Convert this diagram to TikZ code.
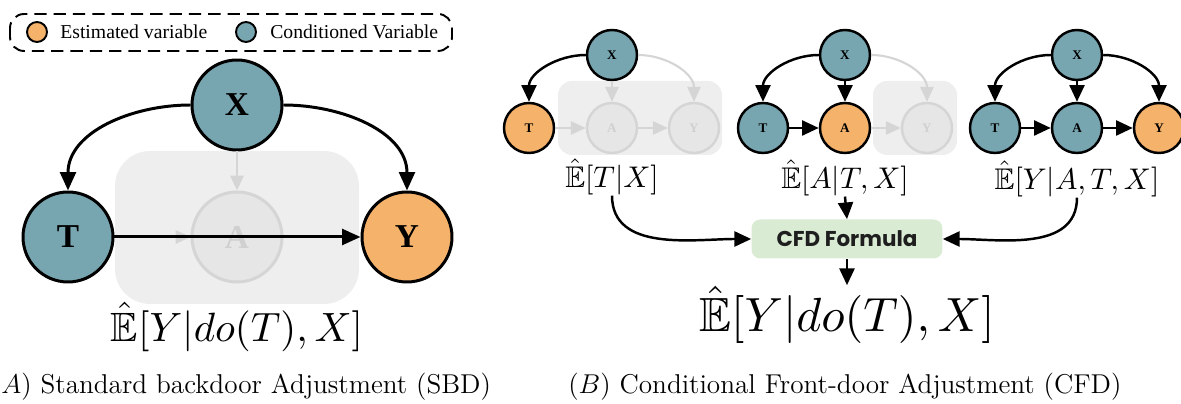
\documentclass[tikz,border=0pt]{standalone}
\usepackage{amsmath,amssymb}
\usepackage{fontspec}
\usetikzlibrary{arrows.meta}
\newfontfamily\tnr{Liberation Serif}
\newfontfamily\popfont{Poppins}
\definecolor{condcol}{HTML}{77A6B1}
\definecolor{estcol}{HTML}{F5B26B}
\definecolor{boxgray}{HTML}{EEEEEE}
\definecolor{ghostfill}{HTML}{E6E6E6}
\definecolor{ghostline}{HTML}{D5D5D5}
\definecolor{ghosttext}{HTML}{D0D0D0}
\definecolor{formulagreen}{HTML}{D9EBD3}
\definecolor{formulatext}{HTML}{1E1E1E}
\tikzset{
  bignode/.style={circle, draw=black, line width=1.7pt, minimum size=1.8cm, inner sep=0pt,
    font=\tnr\bfseries\fontsize{19}{19}\selectfont},
  smallnode/.style={circle, draw=black, line width=1.4pt, minimum size=1.0cm, inner sep=0pt,
    font=\tnr\bfseries\fontsize{7.5}{7.5}\selectfont},
  cond/.style={fill=condcol},
  est/.style={fill=estcol},
  ghost/.style={fill=ghostfill, draw=ghostline, text=ghosttext},
  shade box/.style={fill=boxgray, draw=none, rounded corners=#1},
  bigedge/.style={line width=1.7pt, -{Triangle[length=10.5pt,width=9pt]}},
  smalledge/.style={line width=1.4pt, -{Triangle[length=9.5pt,width=8.5pt]}},
  ghostedge/.style={draw=ghostline, line width=1.2pt, -{Triangle[length=8.5pt,width=7.5pt]}},
  estlabel/.style={inner sep=0pt, scale=#1},
  legendtext/.style={anchor=west, inner sep=0pt, font=\tnr\fontsize{11.2}{12}\selectfont},
  captiontext/.style={inner sep=0pt, scale=1.076, font=\fontsize{14.4}{16}\selectfont},
}
\begin{document}
\begin{tikzpicture}[x=0.02cm, y=-0.02cm]
\useasboundingbox (0,0) rectangle (1181,404);

% ---------- legend ----------
\draw[line width=1.1pt, dash pattern=on 7pt off 4pt, rounded corners=8pt] (10,14) rectangle (452,51);
\node[circle, draw=black, line width=1.1pt, est, minimum size=0.4cm, inner sep=0pt] (legE) at (37,32) {};
\node[legendtext] (legEt) at (60,32) {Estimated variable};
\node[circle, draw=black, line width=1.1pt, cond, minimum size=0.4cm, inner sep=0pt] (legC) at (246,32) {};
\node[legendtext] (legCt) at (270,32) {Conditioned Variable};

% ---------- (A) standard backdoor adjustment ----------
\fill[shade box=20pt] (115,151) rectangle (359,304);
\node[bignode, ghost] (aA) at (237,237) {A};
\node[bignode, cond] (aX) at (237,105) {X};
\node[bignode, cond] (aT) at (68,237) {T};
\node[bignode, est] (aY) at (407,237) {Y};
\draw[ghostedge, line width=1.6pt] (aX) -- (aA);
\draw[ghostedge, line width=1.6pt] (aT) -- (aA);
\draw[bigedge] (aX.west) to[out=180, in=90] (aT.north);
\draw[bigedge] (aX.east) to[out=0, in=90] (aY.north);
\draw[bigedge] (aT) -- (aY);
\node[estlabel=2.33] (aLab) at (237,327) {$\hat{\mathbb{E}}[Y|do(T),X]$};

% ---------- (B) conditional front-door adjustment ----------
% first stage: E[T|X]
\fill[shade box=8pt] (558,81) rectangle (722,155);
\node[smallnode, cond] (b1X) at (612,55) {X};
\node[smallnode, est] (b1T) at (529,128) {T};
\node[smallnode, ghost] (b1A) at (612,128) {A};
\node[smallnode, ghost] (b1Y) at (694,128) {Y};
\draw[ghostedge] (b1X) -- (b1A);
\draw[ghostedge] (b1X.east) to[out=0, in=90] (b1Y.north);
\draw[ghostedge] (b1T) -- (b1A);
\draw[ghostedge] (b1A) -- (b1Y);
\draw[smalledge] (b1X.west) to[out=180, in=90] (b1T.north);
\node[estlabel=1.7] (lT) at (612,177) {$\hat{\mathbb{E}}[T|X]$};

% second stage: E[A|T,X]
\fill[shade box=8pt] (873,81) rectangle (957,155);
\node[smallnode, cond] (b2X) at (845,55) {X};
\node[smallnode, cond] (b2T) at (763,128) {T};
\node[smallnode, est] (b2A) at (845,128) {A};
\node[smallnode, ghost] (b2Y) at (927,128) {Y};
\draw[ghostedge] (b2X.east) to[out=0, in=90] (b2Y.north);
\draw[ghostedge] (b2A) -- (b2Y);
\draw[smalledge] (b2X.west) to[out=180, in=90] (b2T.north);
\draw[smalledge] (b2X) -- (b2A);
\draw[smalledge] (b2T) -- (b2A);
\node[estlabel=1.7] (lA) at (845,178) {$\hat{\mathbb{E}}[A|T,X]$};

% third stage: E[Y|A,T,X]
\node[smallnode, cond] (b3X) at (1077,55) {X};
\node[smallnode, cond] (b3T) at (995,128) {T};
\node[smallnode, cond] (b3A) at (1077,128) {A};
\node[smallnode, est] (b3Y) at (1159,128) {Y};
\draw[smalledge] (b3X.west) to[out=180, in=90] (b3T.north);
\draw[smalledge] (b3X.east) to[out=0, in=90] (b3Y.north);
\draw[smalledge] (b3X) -- (b3A);
\draw[smalledge] (b3T) -- (b3A);
\draw[smalledge] (b3A) -- (b3Y);
\node[estlabel=1.7] (lY) at (1077,179) {$\hat{\mathbb{E}}[Y|A,T,X]$};

% combination step
\node[fill=formulagreen, rounded corners=5pt, minimum width=3.82cm, minimum height=0.78cm,
      inner sep=0pt, text=formulatext, font=\popfont\bfseries\fontsize{12.2}{13}\selectfont]
      (cfd) at (847,239) {CFD Formula};
\node[estlabel=2.73] (res) at (847,315) {$\hat{\mathbb{E}}[Y|do(T),X]$};
\draw[smalledge] (lT.south) to[out=-90, in=180] (cfd.west);
\draw[smalledge] (lY.south) to[out=-90, in=0] (cfd.east);
\draw[smalledge] (lA.south) -- (cfd.north);
\draw[smalledge] (cfd.south) -- (res.north);

% ---------- captions ----------
\node[captiontext, anchor=west] (capA) at (1,387) {\llap{$($}$A)$ Standard backdoor Adjustment (SBD)};
\node[captiontext, anchor=west] (capB) at (568,387) {$(B)$ Conditional Front-door Adjustment (CFD)};
\end{tikzpicture}
\end{document}
